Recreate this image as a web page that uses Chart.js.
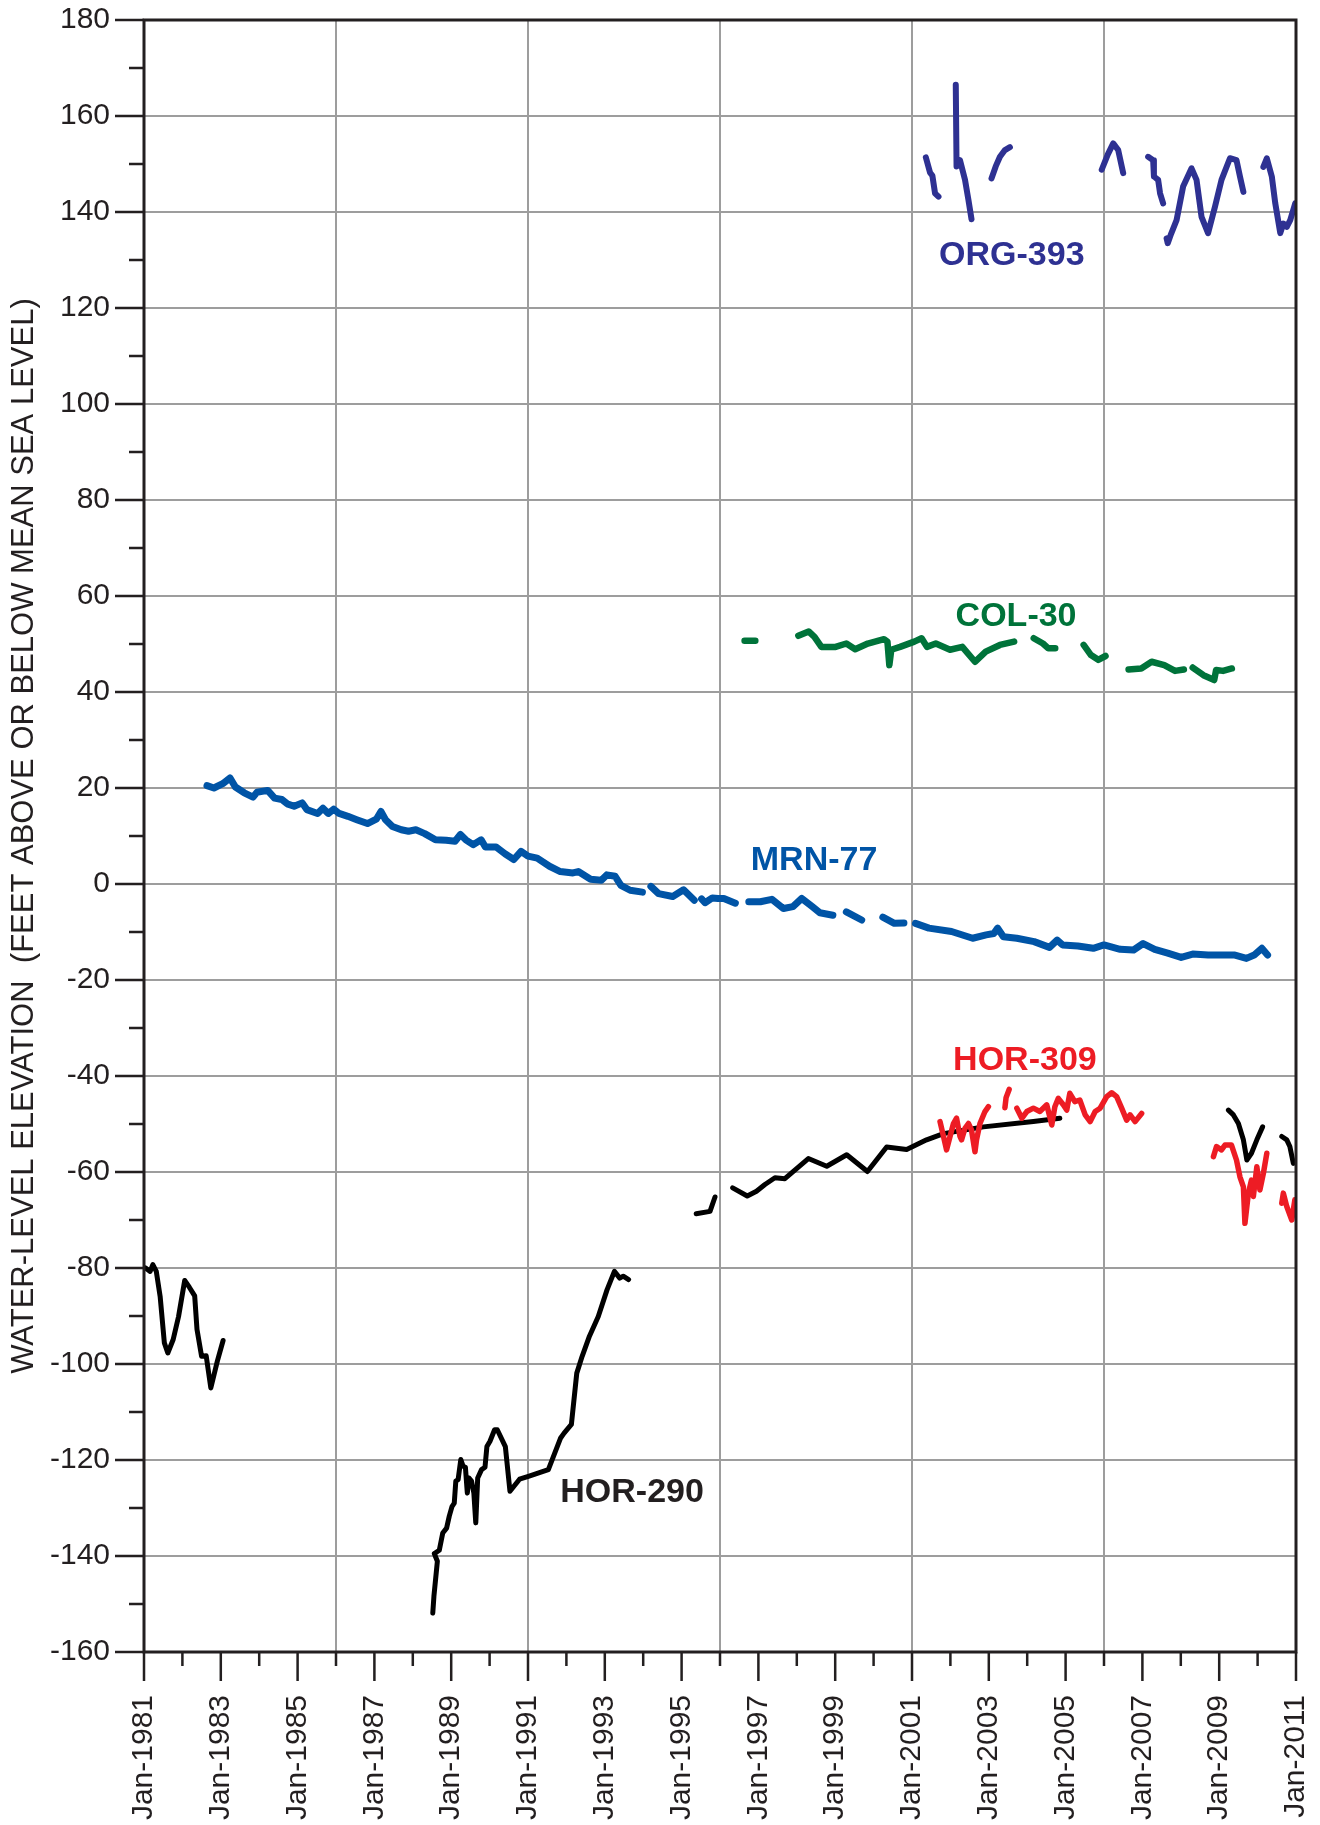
<!DOCTYPE html>
<html>
<head>
<meta charset="utf-8">
<title>Water-level elevation</title>
<script src="https://cdn.jsdelivr.net/npm/chart.js@4.4.1/dist/chart.umd.min.js"></script>
<style>
  html, body { margin: 0; padding: 0; background: #fff; }
  #wrap { width: 1320px; height: 1825px; position: relative; }
</style>
</head>
<body>
<div id="wrap"><canvas id="chart"></canvas></div>
<script>
// ============================================================
// DATA (decimal years / feet above or below mean sea level)
// null = gap in the record
// ============================================================

const xTickYears = [1981, 1983, 1985, 1987, 1989, 1991, 1993, 1995, 1997, 1999, 2001, 2003, 2005, 2007, 2009, 2011];
const yTickValues = [180, 160, 140, 120, 100, 80, 60, 40, 20, 0, -20, -40, -60, -80, -100, -120, -140, -160];

const org393Years = [2001.36, 2001.47, 2001.53, 2001.60, 2001.69, null,
  2002.14, 2002.16, 2002.22, 2002.25, 2002.38, 2002.47, 2002.55, null,
  2003.07, 2003.18, 2003.29, 2003.42, 2003.55, null,
  2005.94, 2006.10, 2006.24, 2006.37, 2006.50, null,
  2007.15, 2007.28, 2007.30, 2007.41, 2007.46, 2007.54, null,
  2007.63, 2007.66, 2007.75, 2007.89, 2008.06, 2008.28, 2008.41, 2008.54, 2008.71, 2008.89, 2009.06, 2009.28, 2009.45, 2009.54, 2009.63, null,
  2010.15, 2010.24, 2010.37, 2010.46, 2010.59, 2010.67, 2010.76, 2010.85, 2010.98];
const org393Levels = [151.4, 148.2, 147.6, 143.9, 143.2, null,
  166.5, 149.5, 149.8, 150.8, 146.7, 142.5, 138.5, null,
  147.0, 149.5, 151.5, 152.9, 153.5, null,
  148.8, 152.0, 154.3, 152.9, 148.1, null,
  151.5, 150.8, 147.4, 146.7, 143.9, 141.8, null,
  134.5, 133.5, 135.5, 138.3, 145.3, 149.1, 146.7, 139.0, 135.6, 141.1, 146.7, 151.2, 150.8, 147.4, 144.2, null,
  149.4, 151.2, 147.4, 141.8, 135.6, 137.6, 136.9, 138.3, 141.8];

const col30Years = [1996.64, 1996.92, null,
  1998.04, 1998.31, 1998.46, 1998.64, 1999.01, 1999.29, 1999.52, 1999.85, 2000.27, 2000.36, 2000.41, 2000.46, 2000.69, 2001.06, 2001.25, 2001.39, 2001.62, 2001.99, 2002.31, 2002.64, 2002.92, 2003.29, 2003.66, null,
  2004.17, 2004.41, 2004.55, 2004.73, null,
  2005.47, 2005.66, 2005.85, 2006.04, null,
  2006.64, 2006.97, 2007.24, 2007.57, 2007.85, 2008.08, null,
  2008.31, 2008.59, 2008.87, 2008.92, 2009.10, 2009.33];
const col30Levels = [50.7, 50.7, null,
  51.7, 52.6, 51.5, 49.4, 49.4, 50.1, 48.9, 50.1, 51.0, 50.5, 45.6, 48.8, 49.4, 50.5, 51.2, 49.4, 50.1, 48.8, 49.4, 46.3, 48.4, 49.8, 50.5, null,
  51.2, 50.1, 49.1, 49.1, null,
  49.8, 47.7, 46.7, 47.5, null,
  44.7, 44.9, 46.3, 45.6, 44.4, 44.7, null,
  45.1, 43.5, 42.5, 44.6, 44.4, 44.9];

const mrn77Years = [1982.64, 1982.82, 1983.05, 1983.24, 1983.38, 1983.61, 1983.84, 1983.94, 1984.22, 1984.40, 1984.59, 1984.73, 1984.91, 1985.12, 1985.24, 1985.52, 1985.66, 1985.80, 1985.94,
  1986.08, 1986.31, 1986.54, 1986.82, 1987.05, 1987.17, 1987.29, 1987.47, 1987.70, 1987.89, 1988.08, 1988.31, 1988.59, 1988.87, 1989.10, 1989.24, 1989.38, 1989.57, 1989.78, 1989.89,
  1990.17, 1990.40, 1990.63, 1990.82, 1991.00, 1991.24, 1991.56, 1991.84, 1992.17, 1992.31, 1992.63, 1992.91, 1993.05, 1993.27, 1993.42, 1993.66, 1993.98, null,
  1994.20, 1994.40, 1994.77, 1995.05, 1995.33, null,
  1995.52, 1995.61, 1995.80, 1995.95, 1996.10, 1996.40, null,
  1996.75, 1997.05, 1997.35, 1997.65, 1997.90, 1998.13, 1998.40, 1998.60, 1998.94, null,
  1999.29, 1999.69, null,
  2000.24, 2000.54, 2000.79, null,
  2001.09, 2001.44, 2002.03, 2002.58, 2002.93, 2003.13, 2003.23, 2003.38, 2003.73, 2004.18, 2004.58, 2004.78, 2004.92, 2005.32, 2005.72, 2006.00,
  2006.42, 2006.77, 2007.02, 2007.32, 2007.66, 2008.01, 2008.31, 2008.71, 2009.11, 2009.41, 2009.71, 2009.91, 2010.11, 2010.26];
const mrn77Levels = [20.5, 20.0, 20.9, 22.1, 20.2, 19.0, 18.1, 19.1, 19.5, 17.9, 17.6, 16.7, 16.2, 16.9, 15.5, 14.7, 15.8, 14.7, 15.6,
  14.7, 14.1, 13.4, 12.6, 13.5, 15.1, 13.4, 12.0, 11.3, 11.0, 11.3, 10.5, 9.2, 9.1, 8.9, 10.3, 9.2, 8.2, 9.2, 7.7,
  7.7, 6.3, 5.1, 6.8, 5.8, 5.4, 3.7, 2.6, 2.3, 2.6, 1.0, 0.8, 1.9, 1.6, -0.3, -1.3, -1.7, null,
  -0.5, -2.0, -2.6, -1.2, -3.4, null,
  -3.1, -3.9, -2.9, -3.0, -3.0, -4.0, null,
  -3.7, -3.7, -3.2, -5.1, -4.7, -3.0, -4.7, -6.0, -6.5, null,
  -5.8, -7.5, null,
  -6.9, -8.2, -8.1, null,
  -8.2, -9.2, -9.9, -11.3, -10.6, -10.3, -9.2, -11.0, -11.3, -12.0, -13.2, -11.7, -12.7, -12.9, -13.4, -12.7,
  -13.6, -13.75, -12.4, -13.6, -14.4, -15.3, -14.6, -14.8, -14.8, -14.8, -15.5, -14.8, -13.4, -14.8];

const hor309Years = [2001.73, 2001.82, 2001.90, 2001.99, 2002.08, 2002.16, 2002.25, 2002.29, 2002.38, 2002.47, 2002.55, 2002.64, 2002.68, 2002.77, 2002.90, 2002.99, null,
  2003.42, 2003.45, 2003.53, null,
  2003.73, 2003.86, 2003.99, 2004.16, 2004.33, 2004.51, 2004.64, 2004.72, 2004.81, 2004.94, 2005.03, 2005.11, 2005.24, 2005.37, 2005.51, 2005.64,
  2005.77, 2005.90, 2006.07, 2006.20, 2006.33, 2006.46, 2006.59, 2006.68, 2006.81, 2006.98, null,
  2008.85, 2008.93, 2009.06, 2009.15, 2009.32, 2009.45, 2009.54, 2009.63, 2009.67, 2009.76, 2009.84, 2009.89, 2009.98, 2010.06, 2010.15, 2010.24, null,
  2010.63, 2010.67, 2010.76, 2010.89, 2010.97];
const hor309Levels = [-49.5, -52.6, -55.4, -52.6, -49.9, -48.8, -52.6, -53.3, -50.9, -49.9, -51.25, -55.8, -53.3, -49.9, -47.4, -46.4, null,
  -46.6, -44.5, -42.8, null,
  -46.7, -48.8, -47.4, -46.7, -47.4, -46.0, -50.2, -46.4, -44.65, -46.0, -47.1, -43.6, -45.35, -45.0, -48.1, -49.5,
  -47.4, -46.7, -44.3, -43.5, -44.3, -46.7, -49.2, -48.1, -49.5, -47.8, null,
  -56.8, -54.7, -55.4, -54.4, -54.4, -57.5, -61.0, -63.1, -70.7, -64.4, -61.7, -65.1, -58.9, -63.75, -60.3, -56.1, null,
  -66.5, -64.4, -67.2, -70.0, -65.8];

const hor290Years = [1981.04, 1981.16, 1981.23, 1981.32, 1981.42, 1981.53, 1981.62, 1981.76, 1981.90, 1982.06, 1982.18, 1982.32, 1982.38, 1982.50, 1982.62, 1982.74, 1982.91, 1983.06, null,
  1988.52, 1988.55, 1988.64, 1988.56, 1988.69, 1988.78, 1988.88, 1988.95, 1989.02, 1989.08, 1989.12, 1989.18, 1989.25, 1989.31, 1989.37, 1989.42, 1989.46, 1989.53, 1989.59, 1989.64,
  1989.69, 1989.79, 1989.88, 1989.93, 1990.01, 1990.13, 1990.20, 1990.41, 1990.53, 1990.78, 1991.01, 1991.53, 1991.85, 1991.94, 1992.13, 1992.27, 1992.41, 1992.60, 1992.83,
  1993.06, 1993.25, 1993.39, 1993.48, 1993.62, null,
  1995.38, 1995.74, 1995.87, null,
  1996.33, 1996.71, 1996.95, 1997.17, 1997.43, 1997.69, 1998.30, 1998.78, 1999.30, 1999.84, 2000.34, 2000.86, 2001.38, 2001.82, 2002.86, 2004.16, 2004.85, null,
  2009.24, 2009.37, 2009.50, 2009.63, 2009.72, 2009.84, 2009.98, 2010.13, null,
  2010.63, 2010.76, 2010.84, 2010.93];
const hor290Levels = [-80.0, -80.7, -79.3, -80.7, -85.9, -95.6, -97.7, -94.9, -90.1, -82.6, -84.0, -85.8, -92.8, -98.4, -98.3, -105.0, -99.4, -95.1, null,
  -151.9, -148.4, -141.1, -139.5, -138.8, -135.2, -134.2, -131.7, -129.7, -129.0, -124.4, -124.1, -119.9, -121.3, -121.5, -126.9, -123.75, -124.4, -126.9, -133.1,
  -123.75, -122.0, -121.5, -117.2, -116.1, -113.7, -113.7, -117.2, -126.5, -124.0, -123.4, -122.0, -115.4, -114.4, -112.6, -101.9, -98.4, -94.2, -90.1,
  -84.5, -80.7, -82.1, -81.7, -82.4, null,
  -68.7, -68.2, -65.2, null,
  -63.3, -65.0, -64.0, -62.6, -61.2, -61.4, -57.2, -58.8, -56.4, -59.9, -54.8, -55.3, -53.3, -52.0, -50.6, -49.5, -48.8, null,
  -47.1, -48.1, -49.9, -53.3, -57.5, -56.1, -53.3, -50.6, null,
  -52.6, -53.3, -54.7, -58.2];

// well labels, anchored in data coordinates
const wellLabels = [
  { text: 'ORG-393', year: 2003.6, level: 131.0, color: '#2e3192' },
  { text: 'COL-30', year: 2003.71, level: 55.8, color: '#00733a' },
  { text: 'MRN-77', year: 1998.45, level: 4.8, color: '#0054a6' },
  { text: 'HOR-309', year: 2003.94, level: -36.9, color: '#ed1c24' },
  { text: 'HOR-290', year: 1993.71, level: -126.9, color: '#231f20' }
];

// ============================================================
// helpers
// ============================================================
const FONT = "'Liberation Sans', Arial, Helvetica, sans-serif";
const INK = '#231f20';
const GRID = '#9d9d9d';

function toPoints(years, levels) {
  return years.map((t, i) => ({ x: t === null ? years[i - 1] : t, y: levels[i] }));
}

function series(label, years, levels, color, width, order) {
  return {
    label, data: toPoints(years, levels),
    borderColor: color, backgroundColor: color, borderWidth: width,
    pointRadius: 0, tension: 0, spanGaps: false, fill: false,
    borderCapStyle: 'round', borderJoinStyle: 'round', order
  };
}

// tick marks (long / short), frame and well labels
const decorPlugin = {
  id: 'decor',
  afterDraw(chart) {
    const { ctx, chartArea: a, scales: { x, y } } = chart;
    ctx.save();
    ctx.strokeStyle = INK;
    ctx.lineWidth = 2.5;
    ctx.beginPath();
    y.ticks.forEach(t => {
      const py = y.getPixelForValue(t.value);
      const len = t.value % 20 === 0 ? 29 : 15;
      ctx.moveTo(a.left - len, py); ctx.lineTo(a.left, py);
    });
    x.ticks.forEach(t => {
      const px = x.getPixelForValue(t.value);
      const len = t.value % 2 === 1 ? 29 : 14;
      ctx.moveTo(px, a.bottom); ctx.lineTo(px, a.bottom + len);
    });
    ctx.stroke();

    ctx.lineWidth = 3;
    ctx.strokeRect(a.left, a.top, a.right - a.left, a.bottom - a.top);

    ctx.font = 'bold 34px ' + FONT;
    ctx.textAlign = 'center';
    ctx.textBaseline = 'middle';
    wellLabels.forEach(l => {
      ctx.fillStyle = l.color;
      ctx.fillText(l.text, x.getPixelForValue(l.year), y.getPixelForValue(l.level));
    });
    ctx.restore();
  }
};

// ============================================================
// chart
// ============================================================
const ctx = document.getElementById('chart').getContext('2d');
new Chart(ctx, {
  type: 'line',
  data: {
    datasets: [
      series('HOR-309', hor309Years, hor309Levels, '#ed1c24', 5.5, 1),
      series('HOR-290', hor290Years, hor290Levels, '#000000', 5, 2),
      series('MRN-77', mrn77Years, mrn77Levels, '#0054a6', 7, 3),
      series('COL-30', col30Years, col30Levels, '#00733a', 6.5, 4),
      series('ORG-393', org393Years, org393Levels, '#2e3192', 6, 5)
    ]
  },
  options: {
    responsive: true, maintainAspectRatio: false, animation: false,
    layout: { padding: { top: 20, right: 24, left: 0, bottom: 0 } },
    plugins: { legend: { display: false }, tooltip: { enabled: false } },
    scales: {
      x: {
        type: 'linear', min: xTickYears[0], max: xTickYears[xTickYears.length - 1],
        afterFit: s => { s.height = 173; s.paddingLeft = 0; s.paddingRight = 0; },
        border: { display: false },
        grid: {
          drawTicks: false, lineWidth: 2,
          color: c => (c.tick && c.tick.value > 1981 && c.tick.value < 2011 && (c.tick.value - 1981) % 5 === 0) ? GRID : 'transparent'
        },
        ticks: {
          stepSize: 1, autoSkip: false, maxRotation: 90, minRotation: 90, padding: 43,
          color: INK, font: { family: FONT, size: 30 },
          callback: v => xTickYears.includes(v) ? 'Jan-' + v : ''
        }
      },
      y: {
        min: yTickValues[yTickValues.length - 1], max: yTickValues[0],
        afterFit: s => { s.width = 144; s.paddingTop = 0; s.paddingBottom = 0; },
        border: { display: false },
        grid: {
          drawTicks: false, lineWidth: 2,
          color: c => (c.tick && yTickValues.includes(c.tick.value) && c.tick.value !== 180 && c.tick.value !== -160) ? GRID : 'transparent'
        },
        ticks: {
          stepSize: 10, autoSkip: false, padding: 34,
          color: INK, font: { family: FONT, size: 30 },
          callback: v => yTickValues.includes(v) ? v : ''
        },
        title: {
          display: true,
          text: 'WATER-LEVEL ELEVATION  (FEET ABOVE OR BELOW MEAN SEA LEVEL)',
          color: INK, font: { family: FONT, size: 31 },
          padding: { top: 6, bottom: 0 }
        }
      }
    }
  },
  plugins: [decorPlugin]
});
</script>
</body>
</html>
